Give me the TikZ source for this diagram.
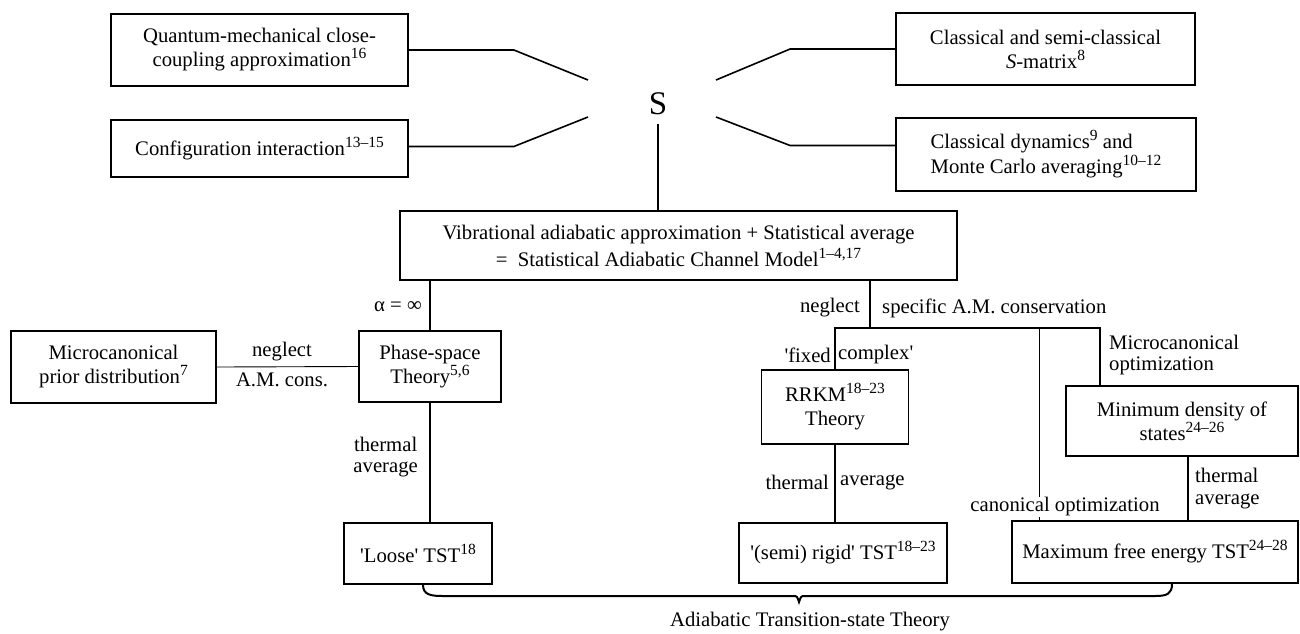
\documentclass[tikz,border=0pt]{standalone}
\usepackage{fontspec}
\setmainfont{Liberation Serif}
\usetikzlibrary{calc}
\newcommand\dfont{\fontsize{20.7}{24}\selectfont}
\newcommand\apos{\textquotesingle}
\newcommand\spx[1]{\raisebox{8pt}{\fontsize{15.5}{15.5}\selectfont #1}}
\begin{document}
\begin{tikzpicture}[x=1pt,y=-1pt,
  box/.style={draw,line width=1.8pt,align=center,inner sep=0pt,font=\dfont},
  lab/.style={inner sep=0pt,align=center,font=\dfont},
  conn/.style={line width=1.6pt},
  thinline/.style={line width=0.9pt}]
\fill[white] (0,0) rectangle (1300,633);
\useasboundingbox (0,0) rectangle (1300,633);

% top boxes
\node[box,minimum width=297,minimum height=72] (qm) at (259.5,50) {Quantum-mechanical close-\\coupling approximation\spx{16}};
\node[box,minimum width=297,minimum height=57] (ci) at (259.5,148.5) {Configuration interaction\spx{13--15}};
\node[box,minimum width=299,minimum height=72] (csm) at (1045.5,49) {Classical and semi-classical\\\textit{S}-matrix\spx{8}};
\node[box,minimum width=300,minimum height=73,align=left,font=\fontsize{20.7}{25}\selectfont] (cd) at (1046,154.5) {Classical dynamics\spx{9} and\\Monte Carlo averaging\spx{10--12}};

\node[inner sep=0pt,font=\fontsize{33}{33}\selectfont] (S) at (658,104) {S};
\coordinate (s1) at (588,80);
\coordinate (s2) at (588,117);
\coordinate (s3) at (716,80);
\coordinate (s4) at (716,117);

\draw[conn] (qm.east) -- ++(105,0) -- (s1);
\draw[conn] (ci.east |- 0,146.5) -- ++(105,0) -- (s2);
\draw[conn] (csm.west) -- ++(-105,0) -- (s3);
\draw[conn] ($(cd.north west)!0.38!(cd.south west)$) -- ++(-105,0) -- (s4);

% middle box
\node[box,minimum width=557,minimum height=69,font=\fontsize{20.7}{27}\selectfont] (mid) at (678.5,245.5) {Vibrational adiabatic approximation + Statistical average\\=\enspace Statistical Adiabatic Channel Model\spx{1--4,17}};
\draw[conn] ([yshift=-9pt]S.south) -- (S.south |- mid.north);

% left branch
\node[box,minimum width=142,minimum height=71] (ps) at (430,366.5) {Phase-space\\Theory\spx{5,6}};
\node[box,minimum width=205,minimum height=72] (mp) at (113.5,367) {Microcanonical\\prior distribution\spx{7}};
\node[box,minimum width=148,minimum height=61] (loose) at (418,553.5) {\apos Loose\apos{} TST\spx{18}};

\draw[conn] (ps.north) -- (ps.north |- mid.south);
\draw[thinline] (mp.east) -- (ps.west);
\draw[conn] (ps.south) -- (ps.south |- loose.north);

\node[lab,anchor=east] (alab) at (422,307) {α = ∞};
\node[lab] (nl1) at (282,352) {neglect};
\node[lab] (nl2) at (282,380) {A.M. cons.};
\node[lab,anchor=east,font=\fontsize{20.7}{21}\selectfont] (ta1) at (418,457) {thermal\\average};

% right branch
\node[box,minimum width=147,minimum height=74] (rrkm) at (835,407) {RRKM\spx{18--23}\\Theory};
\node[box,minimum width=208,minimum height=60] (semi) at (843,553) {\apos(semi) rigid\apos{} TST\spx{18--23}};
\node[box,minimum width=232,minimum height=70] (minb) at (1182,421) {Minimum density of\\states\spx{24--26}};
\node[box,minimum width=286,minimum height=62] (maxb) at (1155,552) {Maximum free energy TST\spx{24--28}};

\coordinate (br) at (870,328);
\coordinate (mj) at (1100,328);
\coordinate (cj) at (1039,328);

\draw[conn] (br |- mid.south) -- (br);
\draw[conn] (rrkm.north) |- (mj) -- (mj |- minb.north);
\draw[thinline] (cj) -- (cj |- maxb.north);
\draw[conn] (rrkm.south) -- (rrkm.south |- semi.north);
\draw[conn] ([xshift=6pt]minb.south) -- ([xshift=6pt]minb.south |- maxb.north);

\node[lab,anchor=east] (ng) at (860,308) {neglect};
\node[lab,anchor=west] (sp) at (882,308) {specific A.M. conservation};
\node[lab,anchor=east] (fx1) at (831,355) {\apos fixed};
\node[lab,anchor=west] (fx2) at (838,355) {complex\apos};
\node[lab,anchor=east] (th1) at (829,482) {thermal};
\node[lab,anchor=west] (th2) at (840,482) {average};
\node[lab,anchor=west,align=left,font=\fontsize{20.7}{21}\selectfont] (mo) at (1109,355) {Microcanonical\\optimization};
\node[lab,anchor=west,align=left,font=\fontsize{20.7}{22}\selectfont] (ta2) at (1195,489) {thermal\\average};
\node[lab,fill=white,inner sep=1pt] (co) at (1065,507) {canonical optimization};

% brace
\draw[line width=2pt] ([xshift=5pt]loose.south) .. controls +(0,10) and +(-12,0) .. (443,596) -- (793,596) .. controls (797,596) .. (799,602) .. controls (801,596) .. (805,596) -- (1155,596) .. controls +(12,0) and +(0,10) .. ([xshift=17pt]maxb.south);
\node[lab] (atst) at (810,622) {Adiabatic Transition-state Theory};
\end{tikzpicture}
\end{document}
